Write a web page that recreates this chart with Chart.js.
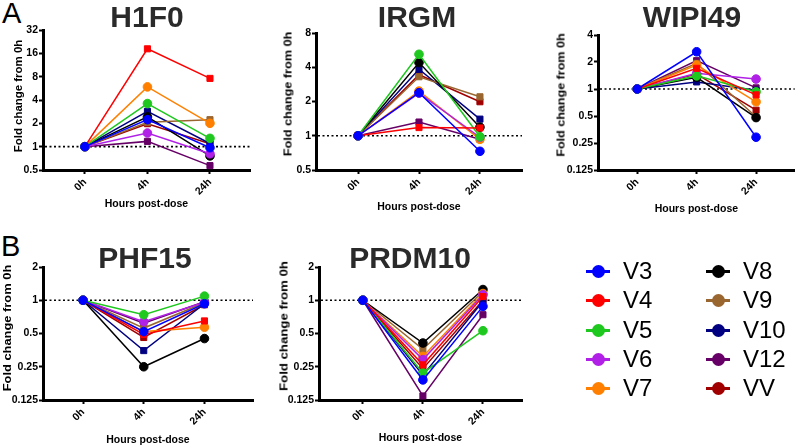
<!DOCTYPE html>
<html><head><meta charset="utf-8">
<script src="https://cdn.jsdelivr.net/npm/chart.js@4.4.0/dist/chart.umd.min.js"></script>
<style>
html,body{margin:0;padding:0;background:#fff;}
body{width:800px;height:446px;position:relative;overflow:hidden;font-family:"Liberation Sans",Arial,sans-serif;}
.box{position:absolute;}
.ttl{position:absolute;font-weight:bold;font-size:30px;line-height:30px;color:#2a2a2a;transform:translateX(-50%);white-space:nowrap;}
.lbl{position:absolute;font-size:29px;line-height:29px;color:#000;}
.ytl{position:absolute;font-weight:bold;font-size:11px;line-height:11px;color:#000;white-space:nowrap;}
.leg{position:absolute;height:24px;}
.leg .ln{position:absolute;left:0;top:11px;width:24px;height:3px;}
.leg .dot{position:absolute;left:5.5px;top:6px;width:13px;height:13px;border-radius:50%;}
.leg .tx{position:absolute;left:37px;top:0;font-size:24px;line-height:24px;color:#000;white-space:nowrap;}
</style>
</head><body>
<div class="lbl" style="left:2px;top:-1px;">A</div>
<div class="lbl" style="left:1px;top:232px;">B</div>
<div id="root"></div>
<script>
// ---------- data ----------
const timepoints = ['0h', '4h', '24h'];
const seriesNames = ['V3', 'V4', 'V5', 'V6', 'V7', 'V8', 'V9', 'V10', 'V12', 'VV'];
const genes = ['H1F0', 'IRGM', 'WIPI49', 'PHF15', 'PRDM10'];

// fold change from 0h, rows follow seriesNames, columns follow timepoints
const h1f0Values = [
  [1, 2.23, 0.97], [1, 18.3, 7.6], [1, 3.6, 1.28], [1, 1.5, 0.81], [1, 5.9, 2.0],
  [1, 2.42, 0.76], [1, 2.06, 2.23], [1, 2.86, 1.1], [1, 1.17, 0.57], [1, 1.98, 1.09]
];
const irgmValues = [
  [1, 2.39, 0.73], [1, 1.18, 1.17], [1, 5.2, 0.98], [1, 2.37, 0.97], [1, 2.47, 0.93],
  [1, 4.4, 1.19], [1, 3.3, 2.2], [1, 3.84, 1.4], [1, 1.32, 0.93], [1, 3.44, 1.99]
];
const wipi49Values = [
  [1, 2.6, 0.29], [1, 1.7, 0.86], [1, 1.4, 0.93], [1, 1.5, 1.29], [1, 1.85, 0.72],
  [1, 1.35, 0.48], [1, 1.93, 0.49], [1, 1.2, 0.97], [1, 2.07, 1.03], [1, 1.47, 0.58]
];
const phf15Values = [
  [1, 0.52, 0.93], [1, 0.49, 0.65], [1, 0.74, 1.09], [1, 0.64, 0.96], [1, 0.52, 0.57],
  [1, 0.25, 0.45], [1, 0.56, 0.95], [1, 0.35, 0.93], [1, 0.62, 0.97], [1, 0.46, 0.91]
];
const prdm10Values = [
  [1, 0.19, 0.88], [1, 0.26, 1.08], [1, 0.22, 0.53], [1, 0.29, 1.12], [1, 0.31, 1.15],
  [1, 0.41, 1.25], [1, 0.36, 1.2], [1, 0.21, 0.98], [1, 0.136, 0.74], [1, 0.24, 1.0]
];

const h1f0Ticks = [0.5, 1, 2, 4, 8, 16, 32];
const irgmTicks = [0.5, 1, 2, 4, 8];
const wipi49Ticks = [0.125, 0.25, 0.5, 1, 2, 4];
const phf15Ticks = [0.125, 0.25, 0.5, 1, 2];
const prdm10Ticks = [0.125, 0.25, 0.5, 1, 2];

const yAxisTitle = 'Fold change from 0h';
const xAxisTitle = 'Hours post-dose';

// ---------- styles ----------
const seriesColors = ['#0000FF', '#FF0000', '#1EC81E', '#B020E6', '#FF8000',
                      '#000000', '#9A6630', '#000080', '#660066', '#A00000'];
const seriesShapes = ['circle', 'rect', 'circle', 'circle', 'circle',
                      'circle', 'rect', 'rect', 'rect', 'rect'];
const FONT = '"Liberation Sans", Arial, sans-serif';

const panelValues = [h1f0Values, irgmValues, wipi49Values, phf15Values, prdm10Values];
const panelTicks = [h1f0Ticks, irgmTicks, wipi49Ticks, phf15Ticks, prdm10Ticks];

// layout (positions/sizes only)
const layouts = [
  {left: 0,   top: 0,   w: 265, h: 215, yW: 43, padTop: 30, padRight: 15, xH: 45, xTP: 4.5, xMin: -0.67, xMax: 2.64, tx: 147, ty: 1.5,   yx: 17.5, yy: 96,  ys: 1.04},
  {left: 265, top: 0,   w: 265, h: 215, yW: 51, padTop: 33, padRight: 8,  xH: 45, xTP: 2,   xMin: -0.69, xMax: 2.69, tx: 417, ty: 1.5,   yx: 287.5, yy: 94, ys: 1.15},
  {left: 530, top: 0,   w: 270, h: 215, yW: 68, padTop: 35, padRight: 2,  xH: 45, xTP: 0,   xMin: -0.66, xMax: 2.65, tx: 692, ty: 2,     yx: 561, yy: 95,   ys: 1.14},
  {left: 0,   top: 220, w: 265, h: 226, yW: 43, padTop: 47, padRight: 12, xH: 46, xTP: 0,   xMin: -0.66, xMax: 2.8,  tx: 145, ty: 242.5, yx: 6.5, yy: 328,  ys: 1.17},
  {left: 270, top: 220, w: 260, h: 226, yW: 49, padTop: 47, padRight: 8,  xH: 46, xTP: 1.5, xMin: -0.73, xMax: 2.65, tx: 410, ty: 242.5, yx: 284, yy: 326,  ys: 1.2}
];

const refLine = {
  id: 'refLine',
  beforeDatasetsDraw(chart) {
    const {ctx, chartArea, scales} = chart;
    const py = scales.y.getPixelForValue(1);
    ctx.save();
    ctx.setLineDash([2, 2.5]);
    ctx.lineWidth = 1.6;
    ctx.strokeStyle = '#000';
    ctx.beginPath();
    ctx.moveTo(chartArea.left + 2, py);
    ctx.lineTo(chartArea.right, py);
    ctx.stroke();
    ctx.restore();
  }
};

const root = document.getElementById('root');

genes.forEach((gene, p) => {
  const L = layouts[p];
  const values = panelValues[p];
  const ticks = panelTicks[p];

  const t = document.createElement('div');
  t.className = 'ttl';
  t.style.left = L.tx + 'px';
  t.style.top = L.ty + 'px';
  t.textContent = gene;
  document.body.appendChild(t);

  const yt = document.createElement('div');
  yt.className = 'ytl';
  yt.style.left = L.yx + 'px';
  yt.style.top = L.yy + 'px';
  yt.style.transform = 'translate(-50%,-50%) rotate(-90deg) scaleX(' + L.ys + ')';
  yt.textContent = yAxisTitle;
  document.body.appendChild(yt);

  const box = document.createElement('div');
  box.className = 'box';
  box.style.left = L.left + 'px';
  box.style.top = L.top + 'px';
  box.style.width = L.w + 'px';
  box.style.height = L.h + 'px';
  const cv = document.createElement('canvas');
  box.appendChild(cv);
  root.appendChild(box);

  const datasets = seriesNames.map((name, i) => ({
    label: name,
    data: values[i].map((v, j) => ({x: j, y: v})),
    borderColor: seriesColors[i],
    backgroundColor: seriesColors[i],
    borderWidth: 1.5,
    pointRadius: 4.3,
    pointStyle: seriesShapes[i],
    pointBorderWidth: 1,
    tension: 0,
    clip: false
  }));

  const tickFont = {family: FONT, size: 10.5, weight: 'bold'};
  new Chart(cv, {
    type: 'line',
    data: {datasets},
    options: {
      responsive: true,
      maintainAspectRatio: false,
      animation: false,
      layout: {padding: {left: 0, top: L.padTop, right: L.padRight, bottom: 0}},
      plugins: {legend: {display: false}, tooltip: {enabled: false}},
      scales: {
        x: {
          type: 'linear', min: L.xMin, max: L.xMax,
          afterBuildTicks: s => { s.ticks = timepoints.map((tp, j) => ({value: j})); },
          afterFit: s => { s.height = L.xH; },
          ticks: {callback: v => timepoints[v], minRotation: 45, maxRotation: 45, autoSkip: false,
                  font: tickFont, color: '#000', padding: 2},
          grid: {display: true, drawOnChartArea: false, drawTicks: true, tickLength: 4, tickWidth: 2, tickColor: '#000'},
          border: {display: true, width: 3, color: '#000'},
          title: {display: true, text: xAxisTitle, color: '#000',
                  font: {family: FONT, size: 10.5, weight: 'bold'}, padding: {top: 0, bottom: L.xTP}}
        },
        y: {
          type: 'logarithmic', min: ticks[0], max: ticks[ticks.length - 1],
          afterBuildTicks: s => { s.ticks = ticks.map(v => ({value: v})); },
          afterFit: s => { s.width = L.yW; },
          ticks: {callback: v => String(v), autoSkip: false, font: tickFont, color: '#000', padding: 1},
          grid: {display: true, drawOnChartArea: false, drawTicks: true, tickLength: 4, tickWidth: 2, tickColor: '#000'},
          border: {display: true, width: 3, color: '#000'},
          title: {display: false}
        }
      }
    },
    plugins: [refLine]
  });
});

// legend (HTML)
const legendPos = {col0: 586, col1: 706, row0: 259, rowStep: 29.3};
seriesNames.forEach((name, i) => {
  const col = i < 5 ? 0 : 1;
  const row = i % 5;
  const d = document.createElement('div');
  d.className = 'leg';
  d.style.left = (col ? legendPos.col1 : legendPos.col0) + 'px';
  d.style.top = (legendPos.row0 + row * legendPos.rowStep) + 'px';
  d.innerHTML = '<div class="ln" style="background:' + seriesColors[i] + '"></div>' +
                '<div class="dot" style="background:' + seriesColors[i] + '"></div>' +
                '<div class="tx">' + name + '</div>';
  document.body.appendChild(d);
});
</script>
</body></html>
